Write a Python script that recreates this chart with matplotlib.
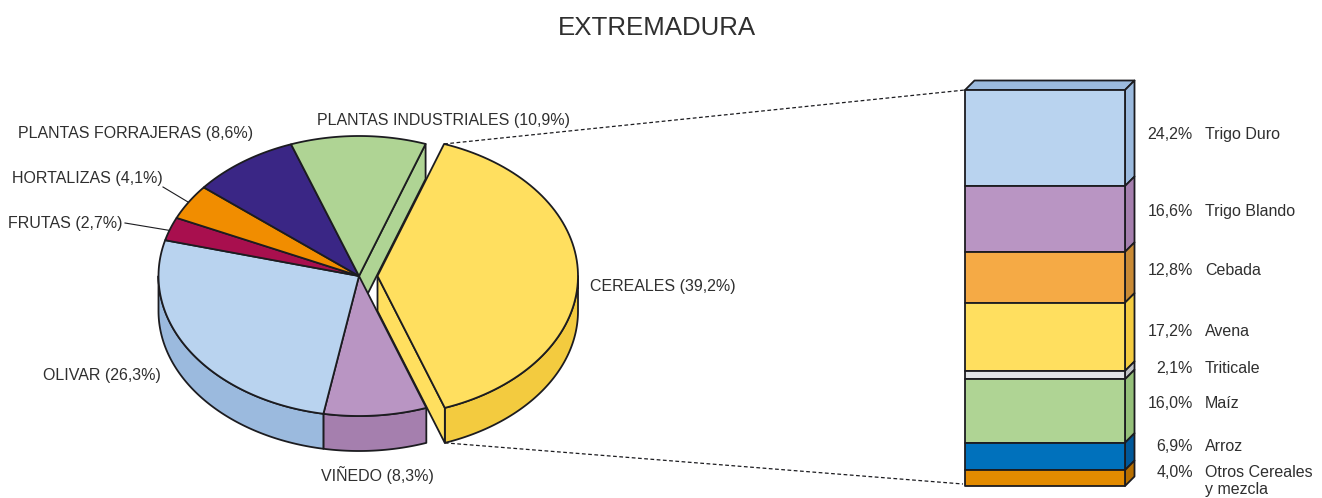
import numpy as np
import matplotlib
matplotlib.use("Agg")
import matplotlib.pyplot as plt
from matplotlib.patches import Polygon

plt.rcParams['font.family'] = ['Liberation Sans', 'DejaVu Sans']

# ---- data ----
title = "EXTREMADURA"
pie_names = ["CEREALES", "VIÑEDO", "OLIVAR", "FRUTAS", "HORTALIZAS",
             "PLANTAS FORRAJERAS", "PLANTAS INDUSTRIALES"]
pie_values = [39.2, 8.3, 26.3, 2.7, 4.1, 8.6, 10.9]
bar_names = ["Trigo Duro", "Trigo Blando", "Cebada", "Avena", "Triticale",
             "Maíz", "Arroz", "Otros Cereales\ny mezcla"]
bar_values = [24.2, 16.6, 12.8, 17.2, 2.1, 16.0, 6.9, 4.0]

# ---- styles ----
pie_top = ["#ffdf5f", "#b995c3", "#b9d3ef", "#a80f4e", "#f18d00", "#3a2685", "#afd494"]
pie_wall = ["#f3cb3f", "#a57fae", "#9bbade", "#8a0c40", "#c87500", "#2e1e6a", "#afd494"]
bar_front = ["#b9d3ef", "#b995c3", "#f5aa45", "#ffdf5f", "#e2e4e6", "#afd494", "#0071bc", "#e38b00"]
bar_side = ["#9bbade", "#a57fae", "#c98a35", "#f3cb3f", "#c0c2c5", "#95c07a", "#00589a", "#b86f00"]
EDGE = "#1c1c20"
TXT = "#2f2f2f"
LW = 1.3
FS = 11.5

# ---- layout (pixels) ----
CX, CY, RX, RY, DEPTH = 359, 276, 200.5, 140, 35
EXPLODE = 18.5
START = 70.6
BX0, BX1, BY0, BY1, BD = 965, 1125, 90, 486, 9.5
pie_label_pos = [(590, 286), (321, 475), (43, 375), (8, 223), (12, 178), (18, 133), (317, 120)]
bar_label_y = [134, 211, 270, 331, 368, 403, 446, 472]

fig = plt.figure(figsize=(13.22, 4.98), dpi=100)
ax = fig.add_axes([0, 0, 1, 1])
ax.set_xlim(0, 1322)
ax.set_ylim(498, 0)
ax.axis('off')


def pt(t, cx=CX, cy=CY):
    t = np.radians(t)
    return cx + RX * np.cos(t), cy - RY * np.sin(t)


def arc(a, b, cx=CX, cy=CY, n=80):
    x, y = pt(np.linspace(a, b, n), cx, cy)
    return np.column_stack([x, y])


def poly(points, fc, z, ec=EDGE):
    ax.add_patch(Polygon(points, closed=True, fc=fc, ec=ec, lw=LW, zorder=z, joinstyle='round'))


# slice angles, clockwise from START
fr = np.array(pie_values) / sum(pie_values) * 360
ends = START - np.cumsum(fr)
starts = ends + fr

# side walls below the rim
for i, (a, b) in enumerate(zip(starts, ends)):
    cx = CX + (EXPLODE if i == 0 else 0)
    seg_a, seg_b = min(a, 0), max(b, -180)
    if seg_a <= seg_b:
        continue
    top = arc(seg_a, seg_b, cx)
    bot = top[::-1] + [0, DEPTH]
    poly(np.vstack([top, bot]), pie_wall[i], 2)

# cut face of the slice beside the exploded one
ix, iy = pt(ends[-1])
ap = np.array([CX, CY])
poly([ap, (ix, iy), (ix, iy + DEPTH), ap + [0, DEPTH]], pie_wall[-1], 1)

# cut face of the exploded slice (lighter yellow, as its top)
ex, ey = pt(ends[0], CX + EXPLODE)
e_ap = np.array([CX + EXPLODE, CY])
poly([e_ap, (ex, ey), (ex, ey + DEPTH), e_ap + [0, DEPTH]], pie_top[0], 3)

# tops
for i, (a, b) in enumerate(zip(starts, ends)):
    cx = CX + (EXPLODE if i == 0 else 0)
    poly(np.vstack([[cx, CY], arc(a, b, cx)]), pie_top[i], 4)

# stacked bar
scale = (BY1 - BY0) / sum(bar_values)
tops = BY0 + np.concatenate([[0], np.cumsum(bar_values)[:-1]]) * scale
bots = BY0 + np.cumsum(bar_values) * scale
poly([(BX0, BY0), (BX1, BY0), (BX1 + BD, BY0 - BD), (BX0 + BD, BY0 - BD)], bar_side[0], 5)
for i in range(len(bar_values)):
    t, b = tops[i], bots[i]
    poly([(BX1, t), (BX1 + BD, t - BD), (BX1 + BD, b - BD), (BX1, b)], bar_side[i], 5)
    poly([(BX0, t), (BX1, t), (BX1, b), (BX0, b)], bar_front[i], 6)

# connecting dashed lines
ux, uy = pt(starts[0], CX + EXPLODE)
ax.plot([ux, BX0], [uy, BY0], color=EDGE, lw=0.9, dashes=(3, 2), zorder=3)
ax.plot([ex, BX0 - 2], [ey + DEPTH, BY1 - 2], color=EDGE, lw=0.9, dashes=(3, 2), zorder=3)

# leader lines
ax.plot([125, 170], [223, 230.5], color=EDGE, lw=0.8, zorder=3)
ax.plot([163, 188], [187, 202], color=EDGE, lw=0.8, zorder=3)

# texts
ax.text(657, 28, title, fontsize=18.6, color=TXT, ha='center', va='center')
for name, v, (x, y) in zip(pie_names, pie_values, pie_label_pos):
    ax.text(x, y, f"{name} ({v:.1f}%)".replace('.', ','), fontsize=FS, color=TXT, ha='left', va='center')
for name, v, y in zip(bar_names, bar_values, bar_label_y):
    ax.text(1193, y, f"{v:.1f}%".replace('.', ','), fontsize=FS, color=TXT, ha='right', va='center')
    if '\n' in name:
        ax.text(1205, y - 7, name, fontsize=FS, color=TXT, ha='left', va='top', linespacing=1.2)
    else:
        ax.text(1205, y, name, fontsize=FS, color=TXT, ha='left', va='center')

fig.savefig("out.png", dpi=100, facecolor='white')
